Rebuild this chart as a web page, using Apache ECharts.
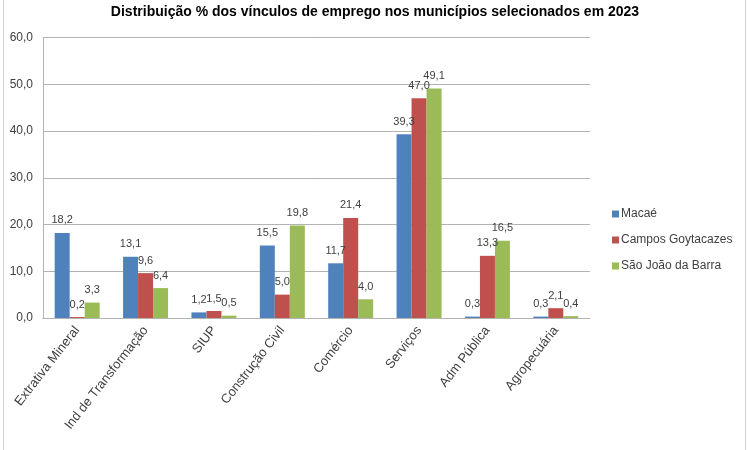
<!DOCTYPE html>
<html><head><meta charset="utf-8">
<script src="https://cdn.jsdelivr.net/npm/echarts@6/dist/echarts.min.js"></script>
<style>html,body{margin:0;padding:0;background:#fff}#c{width:749px;height:450px}</style>
</head><body><div id="c"></div>
<script>
const categories = ['Extrativa Mineral','Ind de Transformação','SIUP','Construção Civil','Comércio','Serviços','Adm Pública','Agropecuária'];
const macae = [18.2, 13.1, 1.2, 15.5, 11.7, 39.3, 0.3, 0.3];
const campos = [0.2, 9.6, 1.5, 5.0, 21.4, 47.0, 13.3, 2.1];
const sjb = [3.3, 6.4, 0.5, 19.8, 4.0, 49.1, 16.5, 0.4];
const seriesNames = ['Macaé','Campos Goytacazes','São João da Barra'];
const colors = ['#4F81BD','#C0504D','#9BBB59'];
const FONT = "'Liberation Sans Narrow','Arial Narrow',Arial,'Liberation Sans',sans-serif";
const fmt = v => Number(v).toFixed(1).replace('.', ',');
const chart = echarts.init(document.getElementById('c'), null, {renderer:'canvas'});
function mk(name, data, color){
  return {name, type:'bar', data, barWidth:15, barGap:'0%', itemStyle:{color},
    label:{show:true, position:'top', distance:7, formatter:p=>fmt(p.value), color:'#404040', fontSize:11, fontFamily:FONT}};
}
chart.setOption({
  animation:false,
  textStyle:{fontFamily:FONT},
  title:{text:'Distribuição % dos vínculos de emprego nos municípios selecionados em 2023', left:370, textAlign:'center', top:0,
    textStyle:{fontFamily:FONT, fontSize:14, fontWeight:'bold', color:'#000'}},
  legend:{orient:'vertical', left:607, top:203, itemWidth:7, itemHeight:7, itemGap:14, icon:'rect',
    textStyle:{fontFamily:FONT, fontSize:12, color:'#404040', padding:[0,0,0,-3]}},
  grid:{left:43, right:159, top:37.5, bottom:132, containLabel:false},
  xAxis:{type:'category', data:categories,
    axisLine:{lineStyle:{color:'#b3b3b3', width:1}}, axisTick:{show:false},
    axisLabel:{rotate:52, interval:0, fontSize:13, color:'#404040', margin:10, fontFamily:FONT}},
  yAxis:{type:'value', min:0, max:60, interval:10,
    axisLine:{show:true, lineStyle:{color:'#b3b3b3'}}, axisTick:{show:false},
    splitLine:{lineStyle:{color:'#b3b3b3', width:1}},
    axisLabel:{formatter:v=>fmt(v), fontSize:12, color:'#404040', margin:10, fontFamily:FONT}},
  graphic:[
    {type:'line', shape:{x1:3.5,y1:0,x2:3.5,y2:450}, style:{stroke:'#d0d0d0', lineWidth:1}},
    {type:'line', shape:{x1:745.5,y1:0,x2:745.5,y2:450}, style:{stroke:'#d0d0d0', lineWidth:1}}
  ],
  series:[mk(seriesNames[0], macae, colors[0]), mk(seriesNames[1], campos, colors[1]), mk(seriesNames[2], sjb, colors[2])]
});
</script></body></html>
